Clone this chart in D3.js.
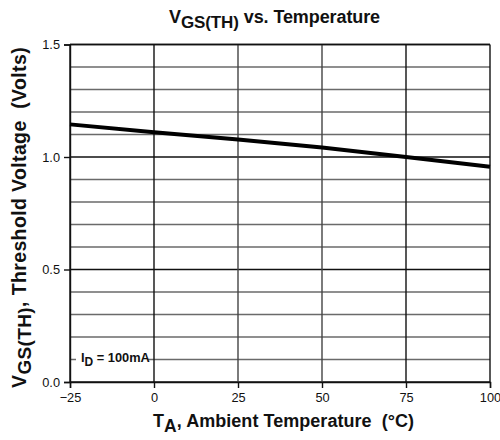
<!DOCTYPE html>
<html>
<head>
<meta charset="utf-8">
<script src="https://cdn.jsdelivr.net/npm/d3@7"></script>
<style>
  body { margin: 0; background: #fff; }
  text { font-family: "Liberation Sans", Arial, sans-serif; }
</style>
</head>
<body>
<div id="chart"></div>
<script>
const WIDTH = 500;
const HEIGHT = 440;

const temps = [-25, 0, 25, 50, 75, 100];
const vgsth = [1.145, 1.11, 1.078, 1.042, 1.0, 0.957];
const xTicks = [-25, 0, 25, 50, 75, 100];
const yTicks = [0.0, 0.5, 1.0, 1.5];
const yGrid = d3.range(0, 16).map((d) => d / 10);

const margin = { left: 70, right: 10, top: 44.5, bottom: 58 };
const plotW = 490 - margin.left;
const plotH = 382 - margin.top;

const svg = d3
  .select("#chart")
  .append("svg")
  .attr("width", WIDTH)
  .attr("height", HEIGHT);

const x = d3.scaleLinear().domain([-25, 100]).range([margin.left, margin.left + plotW]);
const y = d3.scaleLinear().domain([0, 1.5]).range([margin.top + plotH, margin.top]);

// stretch a label with letter-spacing so it covers `target` px
const fit = (sel, target) => {
  const n = sel.text().length;
  const w = sel.node().getBBox().width;
  sel.attr("letter-spacing", (target - w) / n);
};

// horizontal grid
svg
  .append("g")
  .selectAll("line")
  .data(yGrid)
  .enter()
  .append("line")
  .attr("x1", x(-25))
  .attr("x2", x(100))
  .attr("y1", (d) => y(d))
  .attr("y2", (d) => y(d))
  .attr("stroke", (d) => (Math.abs(d * 10 % 5) < 1e-6 ? "#111" : "#6a6a6a"))
  .attr("stroke-width", 1.4);

// vertical grid
svg
  .append("g")
  .selectAll("line")
  .data(xTicks)
  .enter()
  .append("line")
  .attr("x1", (d) => x(d))
  .attr("x2", (d) => x(d))
  .attr("y1", y(1.5))
  .attr("y2", y(0))
  .attr("stroke", (d) => (d === 25 || d === 50 ? "#444" : "#111"))
  .attr("stroke-width", 1.4);

// top line
svg
  .append("line")
  .attr("x1", x(-25))
  .attr("x2", x(100))
  .attr("y1", y(1.5))
  .attr("y2", y(1.5))
  .attr("stroke", "#111")
  .attr("stroke-width", 1.4);

// axes
const xAxis = svg
  .append("g")
  .attr("transform", `translate(0,${y(0)})`)
  .call(d3.axisBottom(x).tickValues(xTicks).tickSize(6).tickPadding(5).tickFormat(d3.format("d")));
const yAxis = svg
  .append("g")
  .attr("transform", `translate(${x(-25)},0)`)
  .call(d3.axisLeft(y).tickValues(yTicks).tickSize(6).tickPadding(4).tickFormat(d3.format(".1f")));

[xAxis, yAxis].forEach((a) => {
  a.select(".domain").attr("stroke", "#111").attr("stroke-width", 1.4);
  a.selectAll(".tick line").attr("stroke", "#111").attr("stroke-width", 1.4);
  a.selectAll(".tick text")
    .attr("fill", "#111")
    .style("font-size", "12.8px")
    .style("font-family", "'Liberation Sans', Arial, sans-serif");
});

// label I_D = 100mA
const idLabel = svg.append("g");
idLabel
  .append("rect")
  .attr("x", x(-25) + 6)
  .attr("y", y(0.1) - 10)
  .attr("width", 72)
  .attr("height", 20)
  .attr("fill", "#fff");
const idText = idLabel
  .append("text")
  .attr("x", x(-25) + 11)
  .attr("y", y(0.1) + 2)
  .attr("font-weight", "bold")
  .attr("font-size", 12.8)
  .attr("fill", "#111");
idText.append("tspan").text("I");
idText.append("tspan").attr("dy", 4).attr("font-size", 12).text("D");
idText.append("tspan").attr("dy", -4).text(" = 100mA");

// data line
svg
  .append("path")
  .datum(temps.map((t, i) => [t, vgsth[i]]))
  .attr("fill", "none")
  .attr("stroke", "#000")
  .attr("stroke-width", 4)
  .attr("d", d3.line().x((d) => x(d[0])).y((d) => y(d[1])));

// title
const title = svg
  .append("text")
  .attr("x", 169)
  .attr("y", 23)
  .attr("font-weight", "bold")
  .attr("font-size", 18)
  .attr("fill", "#111");
title.append("tspan").text("V");
title.append("tspan").attr("dy", 5).attr("font-size", 17).text("GS(TH)");
title.append("tspan").attr("dy", -5).text(" vs. Temperature");
fit(title, 211);

// x label
const xLabel = svg
  .append("text")
  .attr("x", 153)
  .attr("y", 427)
  .attr("font-weight", "bold")
  .attr("font-size", 18)
  .attr("fill", "#111");
xLabel.append("tspan").text("T");
xLabel.append("tspan").attr("dy", 5).attr("font-size", 17.5).text("A");
xLabel.append("tspan").attr("dy", -5).text(", Ambient Temperature\u00a0\u00a0(\u00b0C)");
fit(xLabel, 261);

// y label
const yLabel = svg
  .append("text")
  .attr("transform", "translate(26,388) rotate(-90)")
  .attr("font-weight", "bold")
  .attr("font-size", 19.5)
  .attr("fill", "#111");
yLabel.append("tspan").text("V");
yLabel.append("tspan").attr("dy", 5).attr("font-size", 19).text("GS(TH)");
yLabel.append("tspan").attr("dy", -5).text(", Threshold Voltage\u00a0\u00a0(Volts)");
fit(yLabel, 341);
</script>
</body>
</html>
